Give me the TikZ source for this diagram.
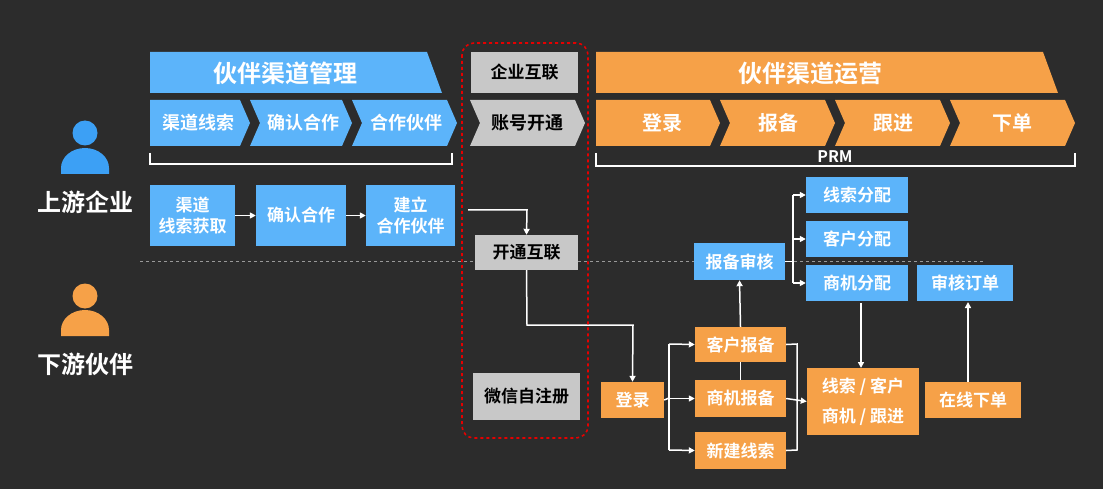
\documentclass[tikz,border=0pt]{standalone}
\usepackage{fontspec}
\setmainfont{Noto Sans CJK SC}[BoldFont={Noto Sans CJK SC Bold}]
\usetikzlibrary{arrows.meta}
\definecolor{bg}{RGB}{44,44,44}
\definecolor{bl}{RGB}{92,180,250}
\definecolor{og}{RGB}{246,161,72}
\definecolor{gy}{RGB}{200,200,200}
\definecolor{pb}{RGB}{60,160,245}
\begin{document}
\begin{tikzpicture}[x=1pt,y=-1pt,
 box/.style={draw=none,minimum height=36pt,inner sep=1pt,font=\bfseries\fontsize{17}{21}\selectfont,align=center,text=white},
 bb/.style={box,fill=bl},
 ob/.style={box,fill=og},
 gb/.style={box,fill=gy,text=black},
 con/.style={draw=white,line width=1.5pt},
 arr/.style={con,-{Triangle[length=6pt,width=6pt]}},
 chev/.style={font=\bfseries\fontsize{18}{20}\selectfont,text=white}]
\fill[bg] (0,0) rectangle (1103,489);
% banners
\fill[bl] (150,52) -- (427,52) -- (442,93) -- (150,93) -- cycle;
\node[font=\bfseries\fontsize{24}{26}\selectfont,text=white] (t1) at (285,73) {伙伴渠道管理};
\fill[og] (596,52) -- (1043,52) -- (1058,93) -- (596,93) -- cycle;
\node[font=\bfseries\fontsize{24}{26}\selectfont,text=white] (t2) at (810,73) {伙伴渠道运营};
\node[gb,minimum width=107pt,minimum height=41pt] (qy) at (524.5,72.5) {企业互联};
% chevrons
\fill[bl] (150,100) -- (240,100) -- (250,123) -- (240,146) -- (150,146) -- cycle;
\fill[bl] (250,100) -- (342,100) -- (352,123) -- (342,146) -- (250,146) -- (260,123) -- cycle;
\fill[bl] (352,100) -- (447,100) -- (457,123) -- (447,146) -- (352,146) -- (362,123) -- cycle;
\fill[gy] (470,100) -- (575,100) -- (585,123) -- (575,146) -- (470,146) -- (480,123) -- cycle;
\fill[og] (596,100) -- (710,100) -- (720,123) -- (710,146) -- (596,146) -- cycle;
\fill[og] (720,100) -- (825,100) -- (835,123) -- (825,146) -- (720,146) -- (730,123) -- cycle;
\fill[og] (835,100) -- (940,100) -- (950,123) -- (940,146) -- (835,146) -- (845,123) -- cycle;
\fill[og] (950,100) -- (1065,100) -- (1075,123) -- (1065,146) -- (950,146) -- (960,123) -- cycle;
\node[chev] (c1) at (198,123) {渠道线索};
\node[chev] (c2) at (303,123) {确认合作};
\node[chev] (c3) at (406,123) {合作伙伴};
\node[chev,text=black] (c4) at (527,123) {账号开通};
\node[chev,font=\bfseries\fontsize{20}{22}\selectfont] (c5) at (662,123) {登录};
\node[chev,font=\bfseries\fontsize{20}{22}\selectfont] (c6) at (778,123) {报备};
\node[chev,font=\bfseries\fontsize{20}{22}\selectfont] (c7) at (893,123) {跟进};
\node[chev,font=\bfseries\fontsize{20}{22}\selectfont] (c8) at (1012,123) {下单};
% brackets
\draw[white,line width=1.2pt] (150,153) -- (150,164) -- (452,164) -- (452,153);
\draw[white,line width=1.2pt] (596,153) -- (596,166) -- (1075,166) -- (1075,153);
\node[font=\bfseries\fontsize{16}{18}\selectfont,text=white,inner sep=1pt] (prm) at (835,157) {PRM};
% persons
\fill[pb] (85,133) circle (12.5);
\fill[pb] (61,174) -- (61,168) arc (180:360:24 and 20) -- (109,174) -- cycle;
\node[font=\bfseries\fontsize{24}{26}\selectfont,text=white] (up) at (85,202) {上游企业};
\fill[og] (85,296) circle (12.5);
\fill[og] (61,336) -- (61,330) arc (180:360:24 and 20) -- (109,336) -- cycle;
\node[font=\bfseries\fontsize{24}{26}\selectfont,text=white] (dn) at (85,364) {下游伙伴};
% dashed separator
\draw[gray!80,dashed,line width=1pt] (140,261) -- (985,261);
% upper boxes
\node[bb,minimum width=85pt,minimum height=61pt] (a1) at (192.5,215.5) {渠道\\线索获取};
\node[bb,minimum width=90pt,minimum height=61pt] (a2) at (301,215.5) {确认合作};
\node[bb,minimum width=89pt,minimum height=61pt] (a3) at (410.5,215.5) {建立\\合作伙伴};
\draw[arr] (a1) -- (a2);
\draw[arr] (a2) -- (a3);
\node[gb,minimum width=103pt,minimum height=35pt] (kt) at (526.5,252.5) {开通互联};
\node[gb,minimum width=107pt,minimum height=47pt] (wx) at (526.5,396.5) {微信自注册};
\node[ob,minimum width=63pt] (dl) at (632.5,400) {登录};
\draw[arr] (a3.east |- 0,210) ++(13,0) -- (527,210) -- (kt.north);
\draw[arr] (kt.south) -- (527,325) -- (633,325) -- (dl.north);
\node[ob,minimum width=91pt,minimum height=35pt] (kh) at (740.5,344.5) {客户报备};
\node[ob,minimum width=91pt,minimum height=37pt] (sj) at (740.5,398.5) {商机报备};
\node[ob,minimum width=91pt,minimum height=37pt] (xj) at (740.5,450.5) {新建线索};
\coordinate (b1) at (669,398);
\draw[con] (dl.east) -- (b1);
\draw[con] (669,344) -- (669,450);
\draw[arr] (669,344) -- (kh.west);
\draw[arr] (669,398.5) -- (sj.west);
\draw[arr] (669,450) -- (xj.west);
\node[ob,minimum width=112pt,minimum height=67pt,font=\bfseries\fontsize{17}{30}\selectfont] (xs) at (863,401.5) {线索 / 客户\\商机 / 跟进};
\draw[con] (kh.east) -- (797,344) -- (797,450) -- (xj.east);
\draw[arr] (sj.east) -- (xs.west);
\node[ob,minimum width=96pt] (zx) at (973,400) {在线下单};
\node[bb,minimum width=96pt] (sh) at (965,283) {审核订单};
\draw[arr] (968,382) -- (968,302);
\node[bb,minimum width=91pt,minimum height=37pt] (bs) at (739.5,261.5) {报备审核};
\draw[con] (sj.north) -- (kh.south);
\draw[arr] (kh.north) -- (bs.south);
\node[bb,minimum width=102pt] (f1) at (857,195) {线索分配};
\node[bb,minimum width=102pt] (f2) at (857,239) {客户分配};
\node[bb,minimum width=102pt] (f3) at (857,283) {商机分配};
\draw[con] (bs.east) -- (793,261.5);
\draw[con] (793,195) -- (793,283);
\draw[arr] (793,195) -- (f1.west);
\draw[arr] (793,239) -- (f2.west);
\draw[arr] (793,283) -- (f3.west);
\draw[arr] (861,303) -- (861,368);
% red dashed region
\draw[red!90!black,dashed,line width=1.6pt,rounded corners=12pt] (462,43) rectangle (588,438);
\end{tikzpicture}
\end{document}
